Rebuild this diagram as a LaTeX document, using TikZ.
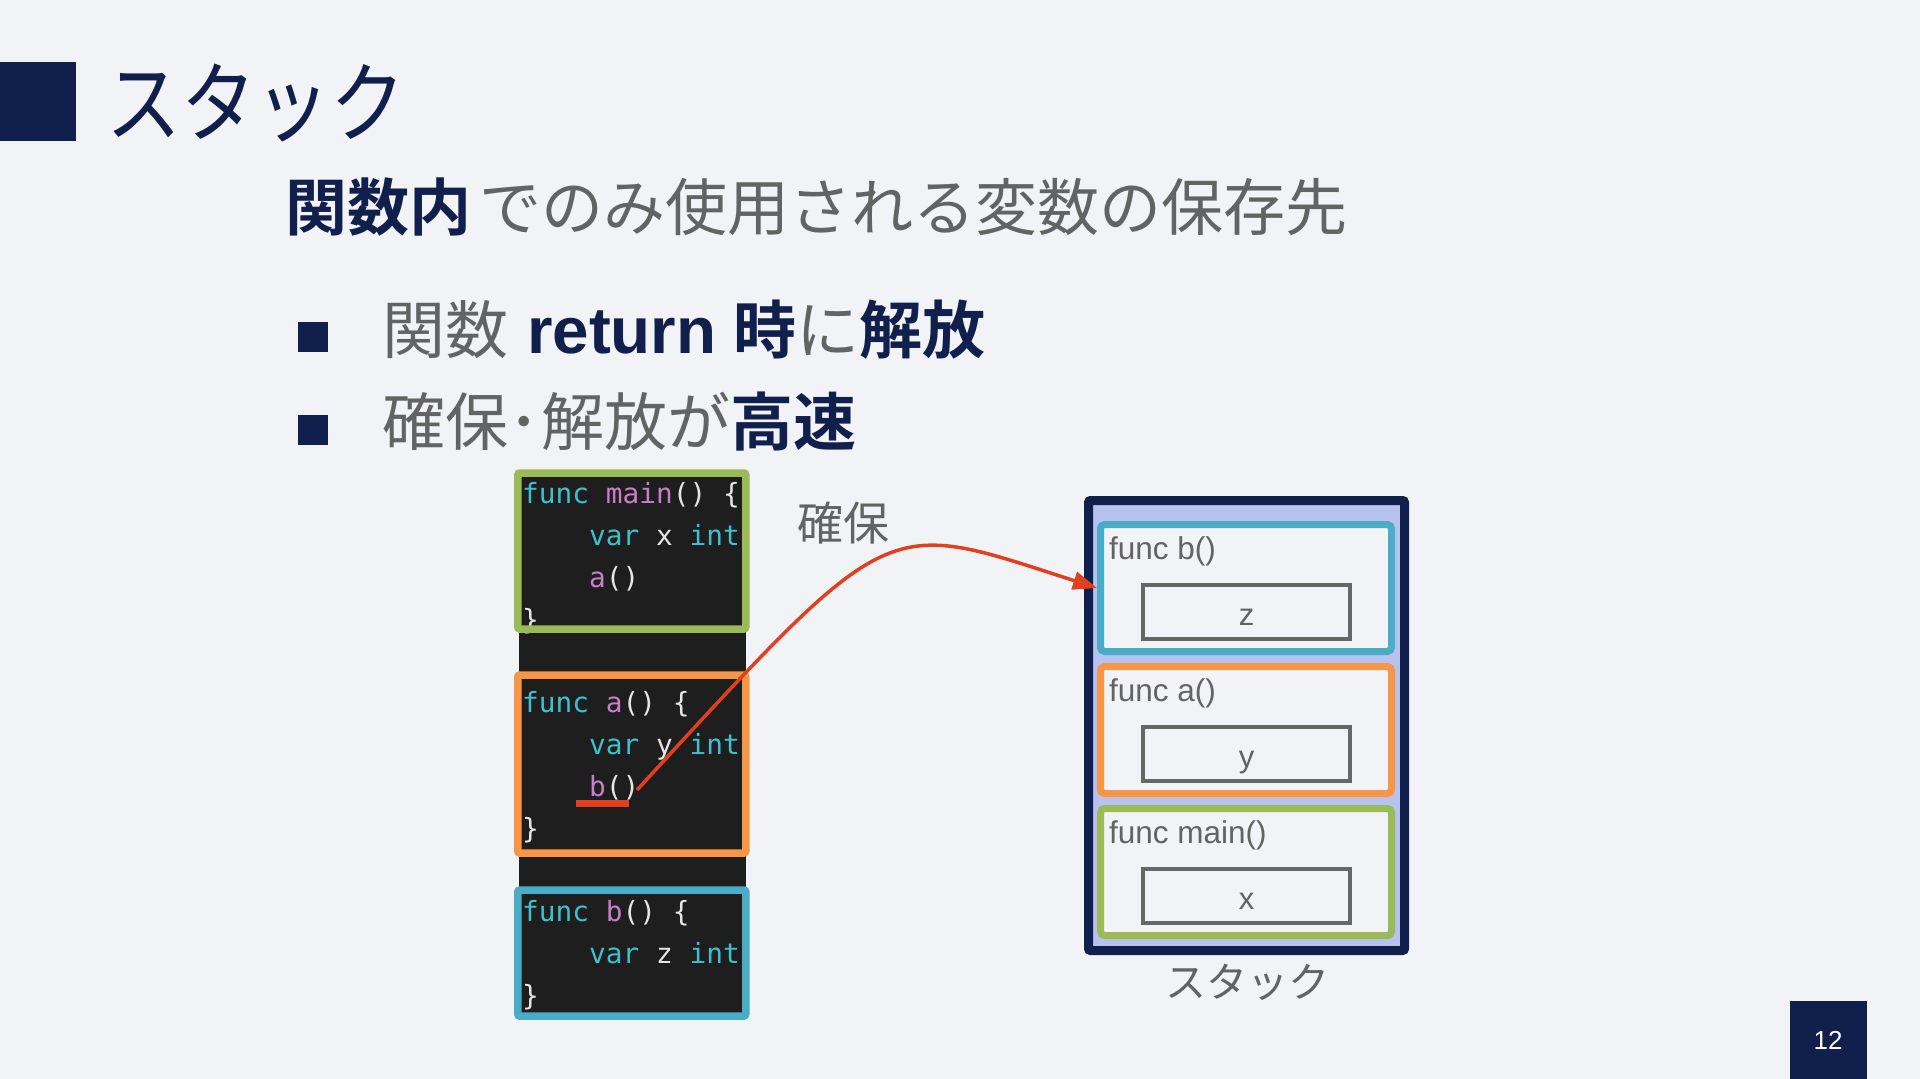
\documentclass[tikz,border=0pt]{standalone}
\usepackage{fontspec}
\setmainfont{Liberation Sans}
\newfontfamily\cjk{Noto Sans CJK JP}[BoldFont={Noto Sans CJK JP Bold}]
\newfontfamily\cjktitle{Noto Sans CJK JP}[FakeStretch=0.85]
\newfontfamily\codefont{DejaVu Sans Mono}
\usetikzlibrary{arrows.meta}
\definecolor{bg}{HTML}{F1F3F7}
\definecolor{navy}{HTML}{111F4D}
\definecolor{tgray}{HTML}{636363}
\definecolor{codebg}{HTML}{1E1E1E}
\definecolor{ccyan}{HTML}{3EC1CD}
\definecolor{cpurp}{HTML}{C67FC8}
\definecolor{cwhite}{HTML}{E6E6E6}
\definecolor{fgreen}{HTML}{9BBB59}
\definecolor{forange}{HTML}{F79646}
\definecolor{fblue}{HTML}{4BACC6}
\definecolor{ared}{HTML}{E0401F}
\definecolor{stackfill}{HTML}{B7C3EE}
\definecolor{vgray}{HTML}{676767}
\newcommand\ckw[1]{\textcolor{ccyan}{#1}}
\newcommand\cfn[1]{\textcolor{cpurp}{#1}}
\tikzset{
  txt/.style={inner sep=0pt, anchor=west},
  codeline/.style={inner sep=0pt, anchor=base west, text=cwhite, font=\codefont\fontsize{27.8}{30}\selectfont},
  codeframe/.style={draw, line width=7.5pt, rounded corners=2pt, minimum width=228, inner sep=0pt},
  stackframe/.style={draw, line width=7pt, fill=bg, rounded corners=4pt, minimum width=291, minimum height=127, inner sep=0pt},
  framelabel/.style={inner sep=0pt, anchor=base west, text=tgray, font=\fontsize{31.5}{34}\selectfont},
  varbox/.style={draw=vgray, line width=4pt, minimum width=207, minimum height=54, inner sep=0pt, text=tgray, font=\fontsize{31}{34}\selectfont, text height=26pt, text depth=0pt},
  bulletsq/.style={fill=navy, minimum width=30, minimum height=30, inner sep=0pt},
  arrowline/.style={draw=ared, line width=3.5pt, -{Triangle[length=24pt,width=18pt]}},
}
\begin{document}
\begin{tikzpicture}[x=1pt,y=-1pt]
\path[use as bounding box, fill=bg] (0,0) rectangle (1920,1079);
% title
\node[fill=navy, minimum width=76, minimum height=79, inner sep=0pt] (tsq) at (38,101.5) {};
\node[txt, text=navy, font=\cjktitle\fontsize{88}{96}\selectfont] (title) at (106,103) {スタック};
% subtitle
\node[txt, font=\cjk\fontsize{62}{70}\selectfont] (sub) at (285,207) {\textcolor{navy}{\bfseries 関数内}\hspace{8pt}\textcolor{tgray}{でのみ使用される変数の保存先}};
% bullets
\node[bulletsq] (b1) at (313,337) {};
\node[txt, font=\cjk\fontsize{63}{70}\selectfont] (t1) at (382,330) {\textcolor{tgray}{関数}\hspace{19pt}\textcolor{navy}{{\fontspec{Liberation Sans}\fontsize{65.5}{70}\selectfont\bfseries return}\hspace{17pt}\bfseries 時}\textcolor{tgray}{に}\textcolor{navy}{\bfseries 解放}};
\node[bulletsq] (b2) at (313,430) {};
\node[txt, font=\cjk\fontsize{63}{70}\selectfont] (t2) at (382,422) {\textcolor{tgray}{確保･\hspace{2pt}解放が}\textcolor{navy}{\bfseries 高速}};
% code column
\node[fill=codebg, minimum width=227, minimum height=549, inner sep=0pt] (codecol) at (632.5,744.5) {};
% main code
\node[codeline] (m1) at (522,503) {\ckw{func} \cfn{main}() \{};
\node[codeline] (m2) at (589,545) {\ckw{var} x \ckw{int}};
\node[codeline] (m3) at (589,587) {\cfn{a}()};
\node[codeline] (m4) at (522,629) {\}};
% a code
\node[codeline] (a1) at (522,712) {\ckw{func} \cfn{a}() \{};
\node[codeline] (a2) at (589,754) {\ckw{var} y \ckw{int}};
\node[codeline] (a3) at (589,796) {\cfn{b}()};
\node[codeline] (a4) at (522,838) {\}};
% b code
\node[codeline] (c1) at (522,921) {\ckw{func} \cfn{b}() \{};
\node[codeline] (c2) at (589,963) {\ckw{var} z \ckw{int}};
\node[codeline] (c3) at (522,1005) {\}};
% code frames
\node[codeframe, draw=fgreen, minimum height=156] (fmain) at (631.75,551) {};
\node[codeframe, draw=forange, minimum height=178] (fa) at (631.75,764) {};
\node[codeframe, draw=fblue, minimum height=126] (fb) at (631.75,953) {};
% underline
\node[fill=ared, minimum width=53, minimum height=7, inner sep=0pt] (ul) at (602.5,803.5) {};
\coordinate (bcall) at (637,790);
% label
\node[txt, text=tgray, font=\cjk\fontsize{46}{50}\selectfont] (kakuho) at (797,523) {確保};
% stack
\node[draw=navy, fill=stackfill, line width=9pt, rounded corners=2pt, minimum width=316, minimum height=450, inner sep=0pt] (stk) at (1246.5,725.5) {};
\node[stackframe, draw=fblue] (sb) at (1246,588) {};
\node[stackframe, draw=forange] (sa) at (1246,730) {};
\node[stackframe, draw=fgreen] (smain) at (1246,872) {};
\node[framelabel] (lb) at (1109,559) {func b()};
\node[framelabel] (la) at (1109,701) {func a()};
\node[framelabel] (lm) at (1109,843) {func main()};
\node[varbox] (vz) at (1246.5,612) {z};
\node[varbox] (vy) at (1246.5,754) {y};
\node[varbox] (vx) at (1246.5,896) {x};
\node[text=tgray, inner sep=0pt, font=\cjk\fontsize{41}{46}\selectfont] (cap) at (1247,982) {スタック};
% arrow
\draw[arrowline] (bcall) .. controls (895,509) and (883,519) .. (sb.west);
% page number
\node[fill=navy, minimum width=77, minimum height=78, inner sep=0pt, text=white, font=\fontsize{26}{30}\selectfont] (pg) at (1828,1040) {12};
\end{tikzpicture}
\end{document}
